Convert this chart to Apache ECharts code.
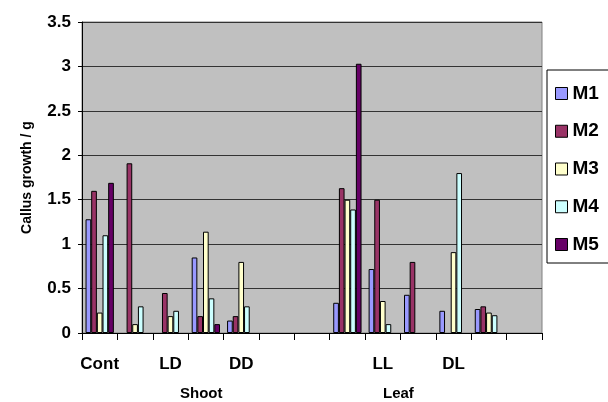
<!DOCTYPE html>
<html>
<head>
<meta charset="utf-8">
<script src="https://cdn.jsdelivr.net/npm/echarts@6/dist/echarts.min.js"></script>
<style>html,body{margin:0;padding:0;background:#fff}#c{width:608px;height:402px}</style>
</head>
<body>
<div id="c"></div>
<script>
const categories = ['Cont', '', 'LD', '', 'DD', '', '', '', 'LL', '', 'DL', '', ''];
const seriesNames = ['M1', 'M2', 'M3', 'M4', 'M5'];
const M1 = [1.28, null, null, 0.85, 0.14, null, null, 0.34, 0.72, 0.43, 0.25, 0.27, null];
const M2 = [1.60, 1.91, 0.45, 0.19, 0.19, null, null, 1.63, 1.50, 0.80, null, 0.30, null];
const M3 = [0.23, 0.10, 0.19, 1.14, 0.80, null, null, 1.50, 0.36, null, 0.91, 0.23, null];
const M4 = [1.10, 0.30, 0.25, 0.39, 0.30, null, null, 1.39, 0.10, null, 1.80, 0.20, null];
const M5 = [1.69, null, null, 0.10, null, null, null, 3.03, null, null, null, null, null];
const yTicks = [0, 0.5, 1, 1.5, 2, 2.5, 3, 3.5];
const groupLabels = ['Shoot', 'Leaf'];
const colors = ['#9999FF', '#993366', '#FFFFCC', '#CCFFFF', '#660066'];
const values = [M1, M2, M3, M4, M5];

const chart = echarts.init(document.getElementById('c'), null, {renderer: 'canvas'});
const F = '"Liberation Sans", Arial, sans-serif';
chart.setOption({
  animation: false,
  color: colors,
  grid: {left: 82, right: 66, top: 22, bottom: 69, show: true, backgroundColor: '#C0C0C0', borderColor: '#808080', borderWidth: 1},
  legend: {
    orient: 'vertical', left: 547, top: 70,
    data: seriesNames,
    backgroundColor: '#fff', borderColor: '#000', borderWidth: 1,
    padding: [14, 20, 9, 8],
    itemWidth: 12, itemHeight: 12, itemGap: 18.75,
    icon: 'rect',
    itemStyle: {borderColor: '#000', borderWidth: 1},
    textStyle: {fontFamily: F, fontWeight: 'bold', fontSize: 19, color: '#000', lineHeight: 18}
  },
  xAxis: {
    type: 'category', data: categories,
    axisLine: {lineStyle: {color: '#000', width: 1}},
    axisTick: {show: true, length: 7, interval: 0, lineStyle: {color: '#000'}},
    axisLabel: {interval: 0, margin: 23, fontFamily: F, fontWeight: 'bold', fontSize: 17, color: '#000'}
  },
  yAxis: {
    type: 'value', min: yTicks[0], max: yTicks[yTicks.length - 1], interval: 0.5,
    name: 'Callus growth / g', nameLocation: 'middle', nameGap: 48,
    nameTextStyle: {fontFamily: F, fontWeight: 'bold', fontSize: 14, color: '#000'},
    axisLine: {show: true, lineStyle: {color: '#000'}},
    axisTick: {show: true, length: 4, lineStyle: {color: '#000'}},
    axisLabel: {margin: 11, fontFamily: F, fontWeight: 'bold', fontSize: 17, color: '#000'},
    splitLine: {show: true, lineStyle: {color: '#333', width: 1}}
  },
  graphic: [
    {type: 'text', left: 180, top: 386, style: {text: groupLabels[0], font: 'bold 15px ' + F, fill: '#000'}},
    {type: 'text', left: 383, top: 386, style: {text: groupLabels[1], font: 'bold 15px ' + F, fill: '#000'}}
  ],
  series: seriesNames.map((n, i) => ({
    name: n, type: 'bar', data: values[i],
    barGap: '0%', barCategoryGap: '20%',
    itemStyle: {color: colors[i], borderColor: '#000', borderWidth: 1}
  }))
});
</script>
</body>
</html>
